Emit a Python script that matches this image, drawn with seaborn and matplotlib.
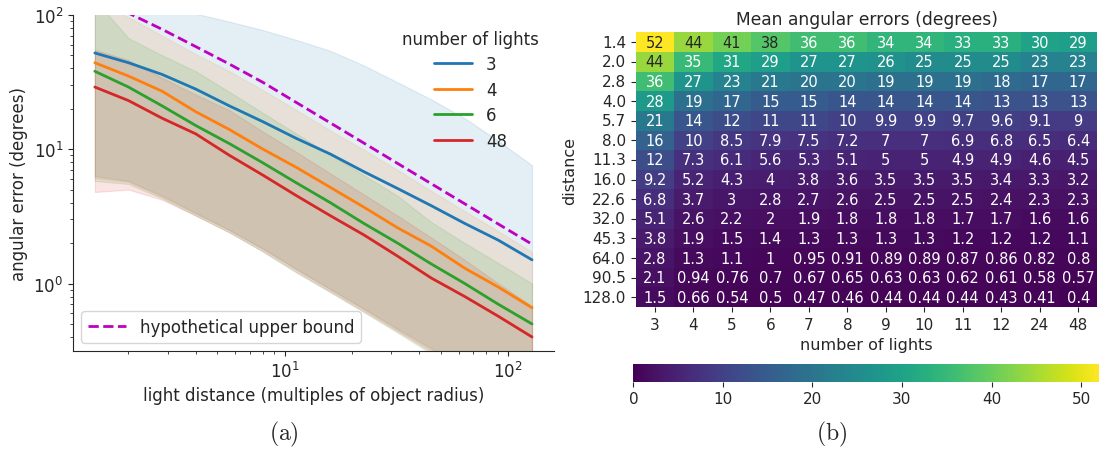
import numpy as np
import pandas as pd
import matplotlib
matplotlib.use("Agg")
import matplotlib.pyplot as plt
import seaborn as sns

# ---------------- data ----------------
distances = [1.414, 2.0, 2.828, 4.0, 5.657, 8.0, 11.31, 16.0, 22.63, 32.0, 45.25, 64.0, 90.51, 128.0]
distance_labels = ["1.4", "2.0", "2.8", "4.0", "5.7", "8.0", "11.3", "16.0", "22.6", "32.0",
                   "45.3", "64.0", "90.5", "128.0"]
light_counts = ["3", "4", "5", "6", "7", "8", "9", "10", "11", "12", "24", "48"]

# mean angular error table (rows: distance, cols: number of lights)
mean_err = [
    [52, 44, 41, 38, 36, 36, 34, 34, 33, 33, 30, 29],
    [44, 35, 31, 29, 27, 27, 26, 25, 25, 25, 23, 23],
    [36, 27, 23, 21, 20, 20, 19, 19, 19, 18, 17, 17],
    [28, 19, 17, 15, 15, 14, 14, 14, 14, 13, 13, 13],
    [21, 14, 12, 11, 11, 10, 9.9, 9.9, 9.7, 9.6, 9.1, 9],
    [16, 10, 8.5, 7.9, 7.5, 7.2, 7, 7, 6.9, 6.8, 6.5, 6.4],
    [12, 7.3, 6.1, 5.6, 5.3, 5.1, 5, 5, 4.9, 4.9, 4.6, 4.5],
    [9.2, 5.2, 4.3, 4, 3.8, 3.6, 3.5, 3.5, 3.5, 3.4, 3.3, 3.2],
    [6.8, 3.7, 3, 2.8, 2.7, 2.6, 2.5, 2.5, 2.5, 2.4, 2.3, 2.3],
    [5.1, 2.6, 2.2, 2, 1.9, 1.8, 1.8, 1.8, 1.7, 1.7, 1.6, 1.6],
    [3.8, 1.9, 1.5, 1.4, 1.3, 1.3, 1.3, 1.3, 1.2, 1.2, 1.2, 1.1],
    [2.8, 1.3, 1.1, 1, 0.95, 0.91, 0.89, 0.89, 0.87, 0.86, 0.82, 0.8],
    [2.1, 0.94, 0.76, 0.7, 0.67, 0.65, 0.63, 0.63, 0.62, 0.61, 0.58, 0.57],
    [1.5, 0.66, 0.54, 0.5, 0.47, 0.46, 0.44, 0.44, 0.44, 0.43, 0.41, 0.4],
]

line_series = ["3", "4", "6", "48"]

# spread bands (lower / upper) for each plotted series
band_lower = {
    "3":  [6.3, 5.8, 4.5, 3.35, 2.5, 1.82, 1.28, 0.91, 0.65, 0.46, 0.33, 0.23, 0.16, 0.115],
    "4":  [6.1, 5.7, 4.4, 3.3, 2.5, 1.8, 1.27, 0.9, 0.64, 0.45, 0.32, 0.22, 0.16, 0.11],
    "6":  [5.8, 5.5, 4.3, 3.2, 2.4, 1.72, 1.2, 0.86, 0.61, 0.43, 0.3, 0.21, 0.15, 0.1],
    "48": [4.8, 5.0, 4.2, 3.2, 2.4, 1.74, 1.22, 0.87, 0.62, 0.44, 0.31, 0.22, 0.15, 0.11],
}
band_upper = {
    "3":  [150, 135, 118, 102, 89, 77, 65, 54, 42, 31.5, 23.5, 17, 11.5, 7.6],
    "4":  [125, 96, 70, 51, 38, 27.5, 19.5, 13.8, 9.9, 7.0, 4.9, 3.45, 2.45, 1.72],
    "6":  [130, 67, 50, 38, 26.7, 18.6, 13.0, 9.1, 6.4, 4.5, 2.87, 2.0, 1.42, 1.0],
    "48": [55, 46, 34, 25.5, 19.5, 13.5, 9.5, 6.6, 4.6, 3.2, 2.2, 1.5, 1.0, 0.68],
}

upper_bound = [135, 103, 78, 58, 43, 31.4, 22.2, 15.7, 11.1, 7.84, 5.54, 3.92, 2.77, 1.96]

series_colors = ["#1f77b4", "#ff7f0e", "#2ca02c", "#d62728"]

# ---------------- figure ----------------
sns.set_style("ticks")
plt.rcParams["font.family"] = ["DejaVu Sans"]
plt.rcParams["mathtext.fontset"] = "dejavusans"

fig = plt.figure(figsize=(10.99, 4.52), dpi=100)

# ---- (a) line plot ----
ax = fig.add_axes([0.0664, 0.221, 0.4376, 0.744])
col_index = {c: i for i, c in enumerate(light_counts)}
rows = []
for s in line_series:
    j = col_index[s]
    for d, r in zip(distances, mean_err):
        rows.append({"distance": d, "error": r[j], "lights": s})
df_lines = pd.DataFrame(rows)

for s, c in zip(line_series, series_colors):
    ax.fill_between(distances, band_lower[s], band_upper[s], color=c, alpha=0.12, lw=0.8)

sns.lineplot(data=df_lines, x="distance", y="error", hue="lights", hue_order=line_series,
             palette=series_colors, lw=2.0, ax=ax, legend=False)
bound_line, = ax.plot(distances, upper_bound, color="m", ls="--", lw=2.0)

ax.set_xscale("log")
ax.set_yscale("log")
ax.set_ylim(0.314, 100)
ax.set_xlabel("light distance (multiples of object radius)", fontsize=12)
ax.set_ylabel("angular error (degrees)", fontsize=12)
ax.tick_params(labelsize=12)
sns.despine(ax=ax)

handles = ax.get_lines()[:4]
leg1 = ax.legend(handles, line_series, title="number of lights", loc="upper right",
                 frameon=False, fontsize=12, title_fontsize=12, handlelength=2.3,
                 labelspacing=0.45, bbox_to_anchor=(1.0, 1.0))
ax.add_artist(leg1)
ax.legend([bound_line], ["hypothetical upper bound"], loc="lower left", fontsize=12,
          handlelength=2.3)

# ---- (b) heatmap ----
hax = fig.add_axes([0.5785, 0.3184, 0.4201, 0.6075])
cax = fig.add_axes([0.5763, 0.1533, 0.4237, 0.0392])
df_heat = pd.DataFrame(mean_err, index=distance_labels, columns=light_counts)
sns.heatmap(df_heat, annot=True, fmt=".2g", cmap="viridis", vmin=0, vmax=52,
            ax=hax, cbar_ax=cax, cbar_kws={"orientation": "horizontal"},
            annot_kws={"size": 10.5})
hax.set_title("Mean angular errors (degrees)", fontsize=12.3)
hax.set_xlabel("number of lights", fontsize=11.5)
hax.set_ylabel("distance", fontsize=11.5)
hax.tick_params(labelsize=11)
hax.set_yticklabels(distance_labels, rotation=0)
cax.tick_params(labelsize=11)

# captions
fig.text(0.258, 0.038, r"$\mathrm{(a)}$", ha="center", va="center", fontsize=17,
         math_fontfamily="cm")
fig.text(0.757, 0.038, r"$\mathrm{(b)}$", ha="center", va="center", fontsize=17,
         math_fontfamily="cm")

fig.savefig("out.png", dpi=100)
